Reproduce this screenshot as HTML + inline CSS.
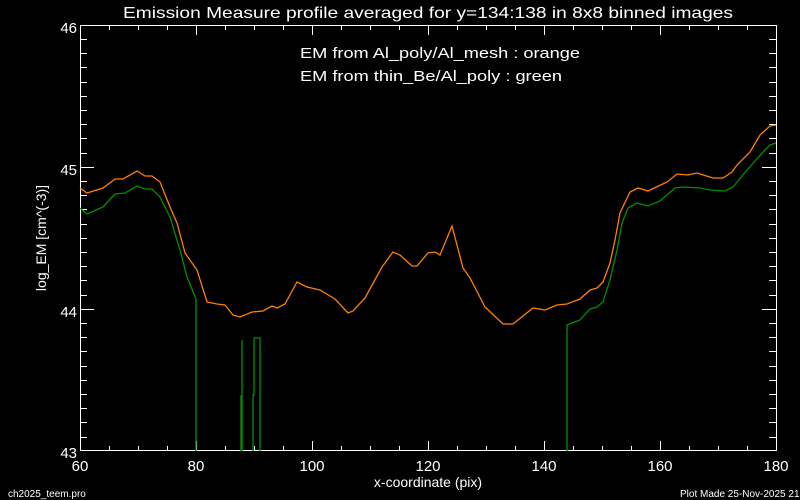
<!DOCTYPE html>
<html><head><meta charset="utf-8"><style>
html,body{margin:0;padding:0;background:#000;}
svg{display:block;}
text{font-family:"Liberation Sans","DejaVu Sans",sans-serif;fill:#fff;}
</style></head><body>
<svg width="800" height="500" viewBox="0 0 800 500" xmlns="http://www.w3.org/2000/svg">
<rect width="800" height="500" fill="#000"/>
<g stroke="#fff" stroke-width="1.3" fill="none" shape-rendering="crispEdges">
<rect x="80.5" y="25.5" width="696" height="425"/>
<path d="
M80.5 451v-10M109.5 451v-5M138.5 451v-5M167.5 451v-5
M196.5 451v-10M225.5 451v-5M254.5 451v-5M283.5 451v-5
M312.5 451v-10M341.5 451v-5M370.5 451v-5M399.5 451v-5
M428.5 451v-10M457.5 451v-5M486.5 451v-5M515.5 451v-5
M544.5 451v-10M573.5 451v-5M602.5 451v-5M631.5 451v-5
M660.5 451v-10M689.5 451v-5M718.5 451v-5M747.5 451v-5
M80.5 25v10M109.5 25v5M138.5 25v5M167.5 25v5
M196.5 25v10M225.5 25v5M254.5 25v5M283.5 25v5
M312.5 25v10M341.5 25v5M370.5 25v5M399.5 25v5
M428.5 25v10M457.5 25v5M486.5 25v5M515.5 25v5
M544.5 25v10M573.5 25v5M602.5 25v5M631.5 25v5
M660.5 25v10M689.5 25v5M718.5 25v5M747.5 25v5"/>
<path d="
M80 167.5h14M80 309.5h14M762 167.5h14M762 309.5h14
M80 39.5h7M80 53.5h7M80 67.5h7M80 82.5h7M80 96.5h7M80 110.5h7M80 124.5h7M80 138.5h7M80 153.5h7
M80 181.5h7M80 195.5h7M80 209.5h7M80 224.5h7M80 238.5h7M80 252.5h7M80 266.5h7M80 280.5h7M80 295.5h7
M80 323.5h7M80 337.5h7M80 351.5h7M80 366.5h7M80 380.5h7M80 394.5h7M80 408.5h7M80 422.5h7M80 437.5h7
M769 39.5h7M769 53.5h7M769 67.5h7M769 82.5h7M769 96.5h7M769 110.5h7M769 124.5h7M769 138.5h7M769 153.5h7
M769 181.5h7M769 195.5h7M769 209.5h7M769 224.5h7M769 238.5h7M769 252.5h7M769 266.5h7M769 280.5h7M769 295.5h7
M769 323.5h7M769 337.5h7M769 351.5h7M769 366.5h7M769 380.5h7M769 394.5h7M769 408.5h7M769 422.5h7M769 437.5h7"/>
</g>
<polyline fill="none" stroke="#ff8000" stroke-width="1.3" points="80,188 87,193 103,188 115,179 123,179 137,171 145,176 152,176 160,182 170,207 177,223 185,253 197,270 207,302 217,304 225,305 233,315 240,317 252,312 263,311 272,306 277,308 285,304 297,282 307,287 320,290 335,299 348,313 353,311 365,298 382,267 393,252 400,255 412,266 417,266 428,253 435,252 440,255 452,226 463,268 470,278 485,307 503,324 513,324 533,308 545,310 557,305 567,304 580,299 590,290 597,288 603,282 610,263 615,240 620,213 630,192 638,188 648,191 667,182 677,174 688,175 697,173 713,178 723,178 732,172 737,165 750,152 760,135 770,126 776,125"/>
<polyline fill="none" stroke="#009000" stroke-width="1.3" points="80,208 87,214 103,207 115,194 125,193 137,186 145,189 152,189 160,197 170,217 180,250 187,277 196,299 196,451"/>
<g fill="none" stroke="#009000" stroke-width="1.3">
<polyline points="241,451 241,396 242,396 242,340 242,451"/>
<polyline points="253,451 253,395 254,395 254,338 260,338 260,451"/>
<polyline points="567,451 567,325 580,320 590,309 597,307 603,302 610,280 617,250 622,223 628,208 637,203 648,206 660,201 675,188 683,187 700,188 710,190 725,191 733,187 747,170 763,152 770,145 776,143"/>
</g>
<text x="123" y="18" font-size="16" textLength="610" lengthAdjust="spacingAndGlyphs">Emission Measure profile averaged for y=134:138 in 8x8 binned images</text>
<text x="300" y="58" font-size="15" textLength="280" lengthAdjust="spacingAndGlyphs">EM from Al_poly/Al_mesh : orange</text>
<text x="300" y="81" font-size="15" textLength="262" lengthAdjust="spacingAndGlyphs">EM from thin_Be/Al_poly : green</text>
<g font-size="15" text-anchor="end">
<text x="77" y="33">46</text><text x="77" y="175">45</text><text x="77" y="317">44</text><text x="77" y="458">43</text>
</g>
<g font-size="15" text-anchor="middle">
<text x="80" y="471">60</text><text x="196" y="471">80</text><text x="312" y="471">100</text><text x="428" y="471">120</text><text x="544" y="471">140</text><text x="660" y="471">160</text><text x="776" y="471">180</text>
</g>
<text x="428" y="487" font-size="14" text-anchor="middle">x-coordinate (pix)</text>
<text transform="translate(46,238) rotate(-90)" font-size="14" text-anchor="middle">log_EM [cm^(-3)]</text>
<text x="8" y="497" font-size="10">ch2025_teem.pro</text>
<text x="680" y="497" font-size="10">Plot Made 25-Nov-2025 21:30</text>
</svg>
</body></html>
